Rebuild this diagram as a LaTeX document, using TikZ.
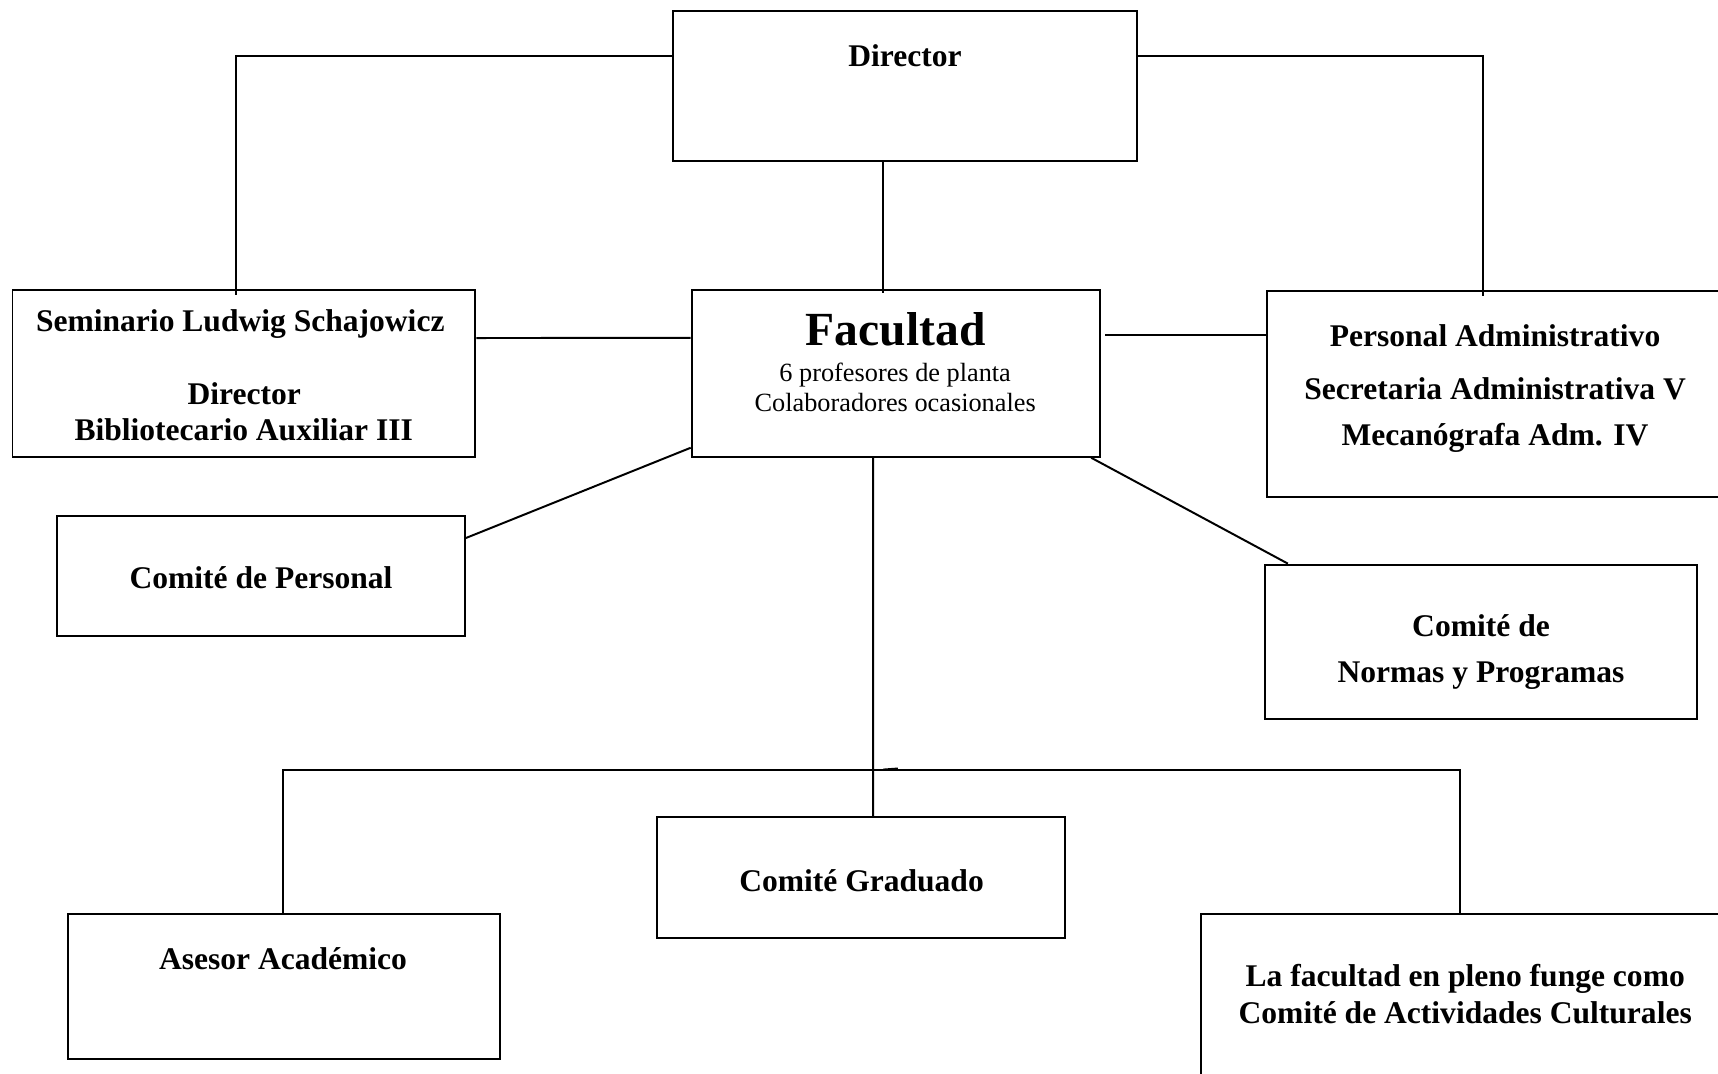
\documentclass[tikz,border=0pt]{standalone}
\usepackage{fontspec}
\setmainfont{Liberation Serif}
\begin{document}
\begin{tikzpicture}[x=0.5pt,y=-0.5pt,
  box/.style={draw, line width=0.9pt, rectangle, inner sep=0pt},
  conn/.style={line width=0.9pt},
  lbl/.style={font=\fontsize{14.4}{16.5}\selectfont\bfseries, anchor=base, inner sep=0pt},
  sml/.style={font=\fontsize{12}{14}\selectfont, anchor=base, inner sep=0pt},
  big/.style={font=\fontsize{21.7}{25}\selectfont\bfseries, anchor=base, inner sep=0pt}]
\useasboundingbox (0,0) rectangle (1568,980);

% boxes
\node[box, minimum width=211.8pt, minimum height=68.5pt] (dir) at (825.9,78.2) {};
\node[box, minimum width=186.2pt, minimum height=76.05pt] (fac) at (817.5,340.8) {};
\node[box, minimum width=211.2pt, minimum height=76.2pt] (sem) at (222.6,340.9) {};
\node[box, minimum width=207.9pt, minimum height=94.05pt] (pers) at (1364.5,359.4) {};
\node[box, minimum width=186.25pt, minimum height=54.65pt] (cper) at (238.05,525.85) {};
\node[box, minimum width=197.3pt, minimum height=70.45pt] (norm) at (1351.5,585.75) {};
\node[box, minimum width=186pt, minimum height=55.05pt] (grad) at (785.6,800.75) {};
\node[box, minimum width=197.1pt, minimum height=65.85pt] (ases) at (259,900.35) {};
\node[box, minimum width=241.4pt, minimum height=82.9pt] (lafac) at (1337.3,917) {};

% texts
\node[lbl] (tdir) at (826,60.8) {Director};
\node[big] (tfac) at (817.5,315.5) {Facultad};
\node[sml] (tfac2) at (817,348) {6 profesores de planta};
\node[sml] (tfac3) at (817,375.4) {Colaboradores ocasionales};
\node[lbl] (tsem1) at (219.3,302.4) {Seminario Ludwig Schajowicz};
\node[lbl] (tsem2) at (223,369.3) {Director};
\node[lbl] (tsem3) at (222.4,402.2) {Bibliotecario Auxiliar III};
\node[lbl] (tpers1) at (1364.5,316.4) {Personal Administrativo};
\node[lbl] (tpers2) at (1364.5,365) {Secretaria Administrativa V};
\node[lbl] (tpers3) at (1364.5,406.2) {Mecanógrafa Adm. IV};
\node[lbl] (tcper) at (238.2,537.5) {Comité de Personal};
\node[lbl] (tnorm1) at (1351.7,580.7) {Comité de};
\node[lbl] (tnorm2) at (1351.7,623.3) {Normas y Programas};
\node[lbl] (tgrad) at (786.3,813.2) {Comité Graduado};
\node[lbl] (tases) at (258.3,884.7) {Asesor Académico};
\node[lbl] (tlaf1) at (1337.3,899.9) {La facultad en pleno funge como};
\node[lbl] (tlaf2) at (1337.3,934) {Comité de Actividades Culturales};

% connectors
\draw[conn] ([yshift=-21pt]dir.north west) -| ([xshift=-3.65pt,yshift=-2.7pt]sem.north);
\draw[conn] ([yshift=-21.15pt]dir.north east) -| ([xshift=-5.4pt,yshift=-2.7pt]pers.north);
\draw[conn] ([xshift=-9.95pt]dir.south) -- ([xshift=-5.75pt,yshift=-1.75pt]fac.north);
\draw[conn] ([yshift=16.2pt]sem.east) -- ([yshift=16.2pt]fac.west);
\draw[conn] ([xshift=2.1pt,yshift=17.65pt]fac.east) -- ([yshift=26.95pt]pers.west);
\draw[conn] ([yshift=4.55pt]fac.south west) -- ([yshift=17.4pt]cper.east);
\draw[conn] ([xshift=-4.35pt]fac.south east) -- ([xshift=11.05pt]norm.north west);
\draw[conn] ([xshift=-10.35pt]fac.south) -- ([xshift=5.6pt]grad.north);
\coordinate (hb) at (797,702.8);
\draw[conn] ([xshift=-0.35pt]ases.north) |- (hb) -| ([xshift=-2.45pt]lafac.north);
\draw[line width=0.7pt] (806,702.2) -- (819.5,701.2);
\end{tikzpicture}
\end{document}
